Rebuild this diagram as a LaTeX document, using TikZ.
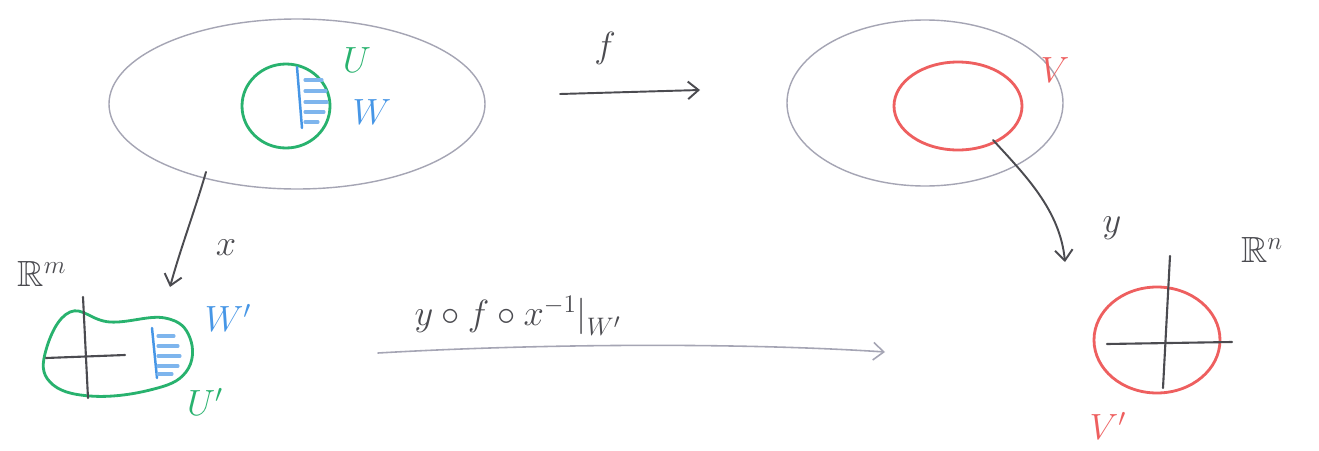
\documentclass[tikz,border=0pt]{standalone}
\usepackage{amssymb}
\usetikzlibrary{arrows.meta,shapes.geometric}
\definecolor{pgreen}{RGB}{40,178,110}
\definecolor{pblue}{RGB}{70,150,230}
\definecolor{pred}{RGB}{238,95,95}
\definecolor{pgray}{RGB}{165,165,180}
\definecolor{pdark}{RGB}{75,75,80}
\tikzset{
  pencil/.style={line width=1.1pt, line cap=round, line join=round},
  bigset/.style={draw=pgray, line width=0.8pt},
  gset/.style={pencil, draw=pgreen, line width=1.6pt},
  rset/.style={pencil, draw=pred, line width=1.6pt},
  bline/.style={pencil, draw=pblue, line width=1.4pt},
  hatch/.style={pencil, draw=pblue!70, line width=1.8pt},
  axis/.style={pencil, draw=pdark, line width=1.2pt},
  maparrow/.style={pencil, draw=pdark, -{Straight Barb[length=6pt,width=10pt]}},
  lbl/.style={font=\huge, inner sep=1pt},
}
\begin{document}
\begin{tikzpicture}[x=0.02cm,y=-0.02cm]
\useasboundingbox (0,0) rectangle (1319,450);
\fill[white] (0,0) rectangle (1319,450);

% left big set
\coordinate (M) at (297,104);
\draw[bigset] (M) ellipse [x radius=188, y radius=85];
% green U
\coordinate (U) at (286,106);
\draw[gset] (U) ellipse [x radius=44, y radius=42];
\draw[bline] (297,67) -- (302,128);
\foreach \yy/\xa/\xb in {80/305/322, 91/305/326, 102/305/327, 112/305/324, 122/305/318}
  \draw[hatch] (\xa,\yy) -- (\xb,\yy);
\node[lbl, text=pgreen] (Ulbl) at (357,60) {$U$};
\node[lbl, text=pblue] (Wlbl) at (372,112) {$W$};

% arrow f
\coordinate (fs) at (560,94);
\coordinate (fe) at (700,90);
\draw[maparrow] (fs) -- (fe);
\node[lbl, text=pdark] (flbl) at (605,48) {$f$};

% right big set
\coordinate (N) at (925,103);
\draw[bigset] (N) ellipse [x radius=138, y radius=83];
% red V
\coordinate (V) at (958,106);
\draw[rset] (V) ellipse [x radius=64, y radius=44];
\node[lbl, text=pred] (Vlbl) at (1055,70) {$V$};

% arrow y
\coordinate (ys) at (993,140);
\coordinate (ye) at (1065,262);
\draw[maparrow] (ys) .. controls (1025,175) and (1060,210) .. (ye);
\node[lbl, text=pdark] (ylbl) at (1112,228) {$y$};

% arrow x
\coordinate (xs) at (206,172);
\coordinate (xe) at (170,287);
\draw[maparrow] (xs) .. controls (195,210) and (180,250) .. (xe);
\node[lbl, text=pdark] (xlbl) at (226,248) {$x$};

% left R^m
\node[lbl, text=pdark] (Rm) at (42,274) {$\mathbb{R}^m$};
\draw[gset] plot[smooth cycle, tension=0.7] coordinates
  {(70,312) (110,322) (165,318) (190,338) (186,372) (150,390) (90,396) (50,382) (46,350)};
\draw[axis] (83,297) -- (88,398);
\draw[axis] (46,358) -- (125,355);
\draw[bline] (152,328) -- (157,378);
\foreach \yy/\xa/\xb in {336/158/174, 346/158/178, 356/158/180, 366/158/178, 374/158/172}
  \draw[hatch] (\xa,\yy) -- (\xb,\yy);
\node[lbl, text=pblue] (Wp) at (228,318) {$W'$};
\node[lbl, text=pgreen] (Up) at (205,402) {$U'$};

% bottom arrow
\coordinate (bs) at (378,353);
\coordinate (be) at (885,352);
\draw[pencil, draw=pgray, line width=0.9pt, -{Straight Barb[length=6pt,width=10pt]}] (bs) .. controls (550,343) and (750,343) .. (be);
\node[lbl, text=pdark] (comp) at (518,316) {$y\circ f\circ x^{-1}\big|_{W'}$};

% right R^n
\coordinate (Vp) at (1157,340);
\draw[rset] (Vp) ellipse [x radius=63, y radius=53];
\draw[axis] (1170,256) -- (1163,388);
\draw[axis] (1107,344) -- (1232,342);
\node[lbl, text=pdark] (Rn) at (1262,250) {$\mathbb{R}^n$};
\node[lbl, text=pred] (Vplbl) at (1108,426) {$V'$};
\end{tikzpicture}
\end{document}
